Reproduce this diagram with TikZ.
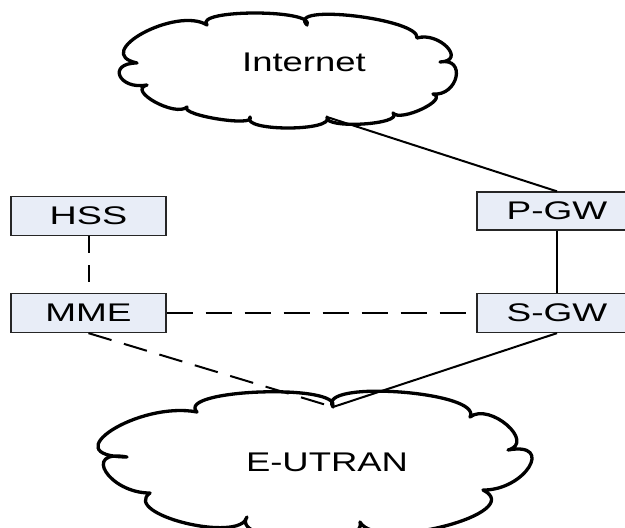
\documentclass[tikz,border=0pt]{standalone}
\usepackage{fontspec}
\setmainfont{Liberation Sans}
\usepackage{graphicx}
\usetikzlibrary{calc}
\definecolor{boxfill}{RGB}{232,237,247}
\tikzset{
  netbox/.style={draw=black!85, line width=1.3pt, fill=boxfill, minimum width=155pt,
    minimum height=39pt, inner sep=0pt, font=\fontsize{25.5}{30}\selectfont},
  cloudline/.style={line width=3.3pt, line join=round},
  cloudtext/.style={font=\fontsize{27}{32}\selectfont, inner sep=0pt},
  conn/.style={line width=2pt},
  longdash/.style={conn, dash pattern=on 26pt off 13pt},
  shortdash/.style={conn, dash pattern=on 17pt off 12pt},
  lobe/.style n args={3}{insert path={.. controls ($0.45*(#1)+1.3333*(#2)-0.7833*(#3)$)
     and ($0.45*(#3)+1.3333*(#2)-0.7833*(#1)$) .. (#3)}}
}
\begin{document}
\begin{tikzpicture}[x=1pt,y=-1pt]
\useasboundingbox (0,0) rectangle (625,528);

% Internet cloud
\draw[cloudline] (207,25)
  [lobe={207,25}{255,13}{307,25}]
  [lobe={307,25}{355,16}{417,38}]
  [lobe={417,38}{447,47}{440,62}]
  [lobe={440,62}{456,77}{433,94}]
  [lobe={433,94}{422,109}{393,113}]
  [lobe={393,113}{363,124}{327,117}]
  [lobe={327,117}{288,128}{250,117}]
  [lobe={250,117}{218,119}{187,107}]
  [lobe={187,107}{155,102}{147,85}]
  [lobe={147,85}{120,76}{137,63}]
  [lobe={137,63}{143,33}{207,25}] -- cycle;
\node[cloudtext] (internet) at (304,62) {\scalebox{1.35}[1]{Internet}};
\coordinate (inetfoot) at (327,117);

% E-UTRAN cloud
\draw[cloudline] (197,412)
  [lobe={197,412}{260,392}{333,407}]
  [lobe={333,407}{400,392}{470,417}]
  [lobe={470,417}{507,425}{508,450}]
  [lobe={508,450}{529,467}{483,490}]
  [lobe={483,490}{445,526}{360,522}]
  [lobe={360,522}{300,540}{247,517}]
  [lobe={247,517}{185,523}{150,493}]
  [lobe={150,493}{106,472}{127,457}]
  [lobe={127,457}{112,430}{197,412}] -- cycle;
\node[cloudtext] (eutran) at (327,462) {\scalebox{1.35}[1]{E-UTRAN}};
\coordinate (eutop) at (333,407);

% boxes
\node[netbox] (hss) at (88.5,216) {\scalebox{1.48}[1]{HSS}};
\node[netbox] (mme) at (88.5,313) {\scalebox{1.45}[1]{MME}};
\node[netbox, minimum width=160pt, minimum height=38pt] (pgw) at (557,211) {\scalebox{1.45}[1]{P-GW}};
\node[netbox, minimum width=160pt] (sgw) at (557,313) {\scalebox{1.45}[1]{S-GW}};

% connectors
\draw[conn] (inetfoot) -- (pgw.north);
\draw[conn] (pgw) -- (sgw);
\draw[shortdash] (hss) -- (mme);
\draw[longdash] (mme) -- (sgw);
\draw[conn, dash pattern=on 24pt off 13pt] (mme.south) -- (eutop);
\draw[conn] (sgw.south) -- (eutop);
\end{tikzpicture}
\end{document}
